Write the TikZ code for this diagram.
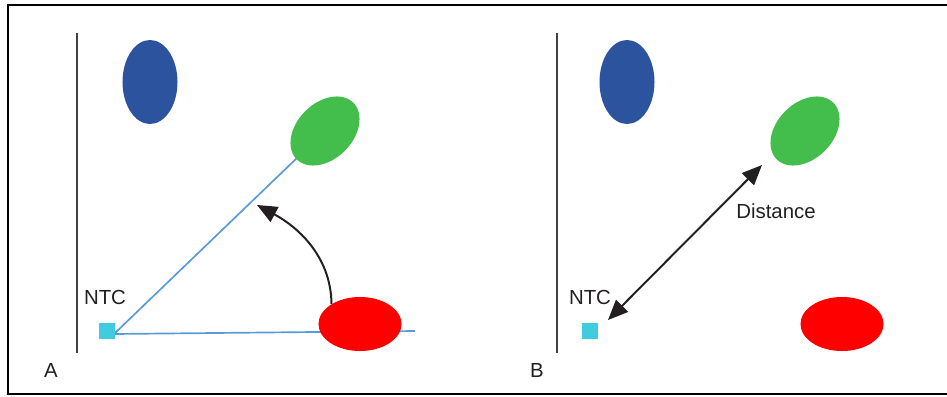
\documentclass[tikz,border=0pt]{standalone}
\usepackage{fontspec}
\setmainfont{Liberation Sans}
\usetikzlibrary{shapes.geometric,arrows.meta,backgrounds}
\definecolor{dotblue}{RGB}{44,84,158}
\definecolor{dotgreen}{RGB}{67,190,76}
\definecolor{dotred}{RGB}{255,0,0}
\definecolor{ntccyan}{RGB}{62,204,222}
\definecolor{raycol}{RGB}{91,155,213}
\definecolor{ink}{RGB}{35,31,32}
\begin{document}
\begin{tikzpicture}[x=0.025cm,y=-0.025cm,font=\fontsize{14.5}{17}\selectfont,text=ink,
  blob/.style={ellipse,inner sep=0pt,draw=none},
  bluedot/.style={blob,fill=dotblue,minimum width=1.375cm,minimum height=2.1cm},
  greendot/.style={blob,fill=dotgreen,minimum width=2cm,minimum height=1.4cm,rotate=45},
  reddot/.style={blob,fill=dotred,minimum width=2.075cm,minimum height=1.35cm},
  sensor/.style={fill=ntccyan,minimum size=0.4cm,inner sep=0pt},
  ray/.style={draw=raycol,line width=1.2pt},
  axisline/.style={draw=black!75,line width=0.8pt},
  bigtip/.style={line width=1.4pt,draw=ink,-{Triangle[length=0.5cm,width=0.42cm]}},
  bothtip/.style={line width=1.4pt,draw=ink,{Triangle[length=0.5cm,width=0.42cm]}-{Triangle[length=0.5cm,width=0.42cm]}}]
\useasboundingbox (0,0) rectangle (947,396);
\draw[line width=1.4pt] (947,5)--(8,5)--(8,394)--(947,394);
% panel A
\draw[axisline] (77,33)--(77,353);
\node[bluedot] (blueA) at (150,82) {};
\node[greendot] (greenA) at (325,131) {};
\node[reddot] (redA) at (360,324) {};
\node[sensor] (ntcA) at (107,331) {};
\node (ntclblA) at (105,297) {NTC};
\coordinate (pivotA) at (114,334); \coordinate (endA) at (415,331);
\begin{pgfonlayer}{background}
\draw[ray] (pivotA)--(greenA.center); \draw[ray] (pivotA)--(endA);
\end{pgfonlayer}
\coordinate (tipA) at (257,205);
\draw[bigtip] (redA.145) .. controls (331,255) and (296,226) .. (tipA);
\node (lblA) at (51,370) {A};
% panel B
\draw[axisline] (557,33)--(557,353);
\node[bluedot] (blueB) at (627,82) {};
\node[greendot] (greenB) at (805,131) {};
\node[reddot] (redB) at (842,324) {};
\node[sensor] (ntcB) at (590,331) {};
\node (ntclblB) at (590,297) {NTC};
\coordinate (distLo) at (608,320); \coordinate (distHi) at (762,165);
\draw[bothtip] (distLo)--(distHi);
\node (distlbl) at (776,211) {Distance};
\node (lblB) at (537,370) {B};
\end{tikzpicture}
\end{document}
